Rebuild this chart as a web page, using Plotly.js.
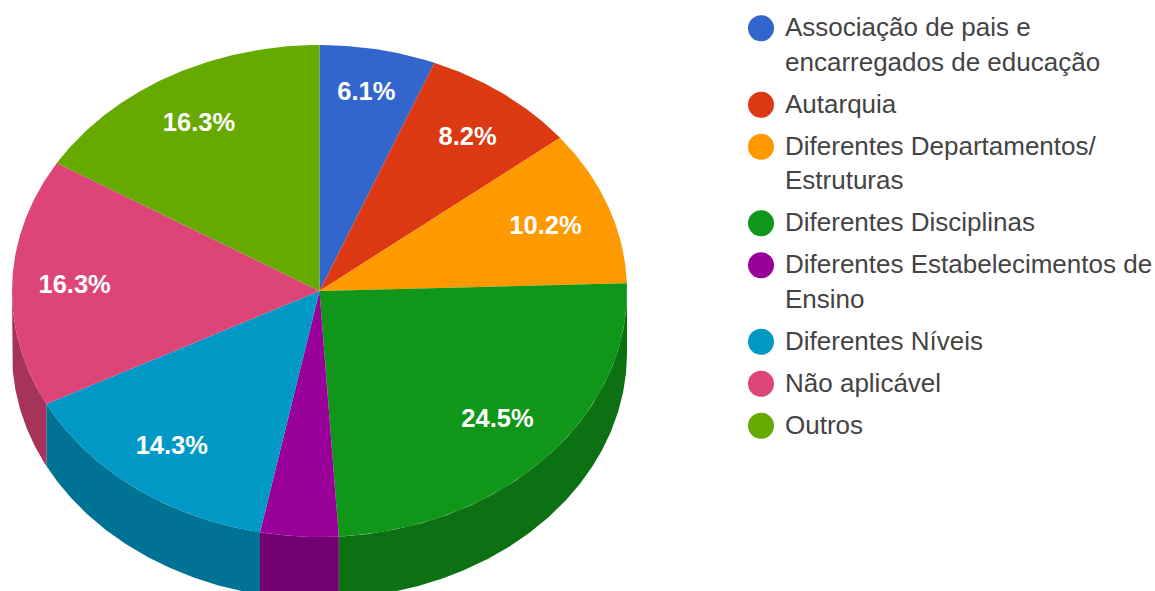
<!DOCTYPE html>
<html><head><meta charset="utf-8">
<script src="https://cdn.plot.ly/plotly-3.0.1.min.js"></script>
<style>html,body{margin:0;padding:0;background:#fff;overflow:hidden}#c{width:1155px;height:591px}</style>
</head><body><div id="c"></div>
<script>
const categories = ["Associação de pais e encarregados de educação","Autarquia","Diferentes Departamentos/ Estruturas","Diferentes Disciplinas","Diferentes Estabelecimentos de Ensino","Diferentes Níveis","Não aplicável","Outros"];
const values = [6.1,8.2,10.2,24.5,4.1,14.3,16.3,16.3];
const colors = ["#3366CC","#DC3912","#FF9900","#109618","#990099","#0099C6","#DD4477","#66AA00"];
const sideColors = ["#264D99","#A52B0E","#BF7300","#0C7112","#730073","#007395","#A63359","#4D8000"];
const legendLines = [["Associação de pais e","encarregados de educação"],["Autarquia"],["Diferentes Departamentos/","Estruturas"],["Diferentes Disciplinas"],["Diferentes Estabelecimentos de","Ensino"],["Diferentes Níveis"],["Não aplicável"],["Outros"]];

// Geometry of the tilted pie and legend (layout, not data)
const CX=319.5, CY=291, RX=307.5, RY=246, DEPTH=62, LABEL_F=0.8;
const LABEL_NUDGE_X=[0,1,-5,-4,0,0,1,0], LABEL_NUDGE_Y=[-4,5,4,-3,0,-1,2,5];
const MARKER_X=761, TEXT_X=785, LINE_H=34.5, ROW_GAP=7.5;
const LEGEND_TOP=11;

const total = values.reduce((a,b)=>a+b,0);
const rad = d=>d*Math.PI/180;
const px = a=>CX+RX*Math.sin(rad(a));
const py = (a,dz=0)=>CY-RY*Math.cos(rad(a))+dz;
function arc(a0,a1,dz=0){
  const n=Math.max(2,Math.ceil(Math.abs(a1-a0)*2)),xs=[],ys=[];
  for(let i=0;i<=n;i++){const a=a0+(a1-a0)*i/n;xs.push(px(a));ys.push(py(a,dz));}
  return [xs,ys];
}
let cum=0;
const slices=values.map(v=>{const s=cum/total*360;cum+=v;return [s,cum/total*360];});

const traces=[];
// side walls
slices.forEach(([s,e],i)=>{
  const a0=Math.max(s,90),a1=Math.min(e,270);
  if(a1<=a0) return;
  const [tx,ty]=arc(a0,a1,0),[bx,by]=arc(a1,a0,DEPTH);
  traces.push({type:'scatter',mode:'lines',x:tx.concat(bx),y:ty.concat(by),fill:'toself',fillcolor:sideColors[i],line:{width:0},hoverinfo:'skip',showlegend:false});
});
// top faces
slices.forEach(([s,e],i)=>{
  const [ax,ay]=arc(s,e,0);
  traces.push({type:'scatter',mode:'lines',x:[CX].concat(ax,[CX]),y:[CY].concat(ay,[CY]),fill:'toself',fillcolor:colors[i],line:{width:0},name:categories[i],text:values[i]+'%',hoverinfo:'name+text',showlegend:false});
});
// percentage labels
const lab=slices.map(([s,e],i)=>({m:(s+e)/2,v:values[i],i})).filter(o=>o.v>=5);
traces.push({type:'scatter',mode:'text',
  x:lab.map(o=>CX+LABEL_F*RX*Math.sin(rad(o.m))+LABEL_NUDGE_X[o.i]),
  y:lab.map(o=>CY-LABEL_F*RY*Math.cos(rad(o.m))+LABEL_NUDGE_Y[o.i]),
  text:lab.map(o=>o.v.toFixed(1)+'%'),textposition:'middle center',textfont:{family:'Liberation Sans, Arial, sans-serif',size:25.5,color:'#fff',weight:'bold'},hoverinfo:'skip',showlegend:false});

// legend
let y=LEGEND_TOP;
const annotations=[],markY=[];
legendLines.forEach(ls=>{
  markY.push(y+LINE_H/2);
  ls.forEach((t,j)=>{annotations.push({xref:'x',yref:'y',x:TEXT_X,y:y+LINE_H/2-1+j*LINE_H,text:t,showarrow:false,xanchor:'left',yanchor:'middle',xshift:-2,
    font:{family:'Liberation Sans, Arial, sans-serif',size:26,color:'#444444'}});});
  y+=ls.length*LINE_H+ROW_GAP;
});
traces.push({type:'scatter',mode:'markers',x:categories.map(()=>MARKER_X),y:markY,text:categories,hoverinfo:'text',marker:{size:26,color:colors,line:{width:0}},showlegend:false});

Plotly.newPlot('c',traces,{
  width:1155,height:591,margin:{l:0,r:0,t:0,b:0},paper_bgcolor:'#fff',plot_bgcolor:'#fff',showlegend:false,
  xaxis:{range:[0,1155],visible:false,fixedrange:true},
  yaxis:{range:[591,0],visible:false,fixedrange:true},
  annotations
},{displayModeBar:false});
</script></body></html>
